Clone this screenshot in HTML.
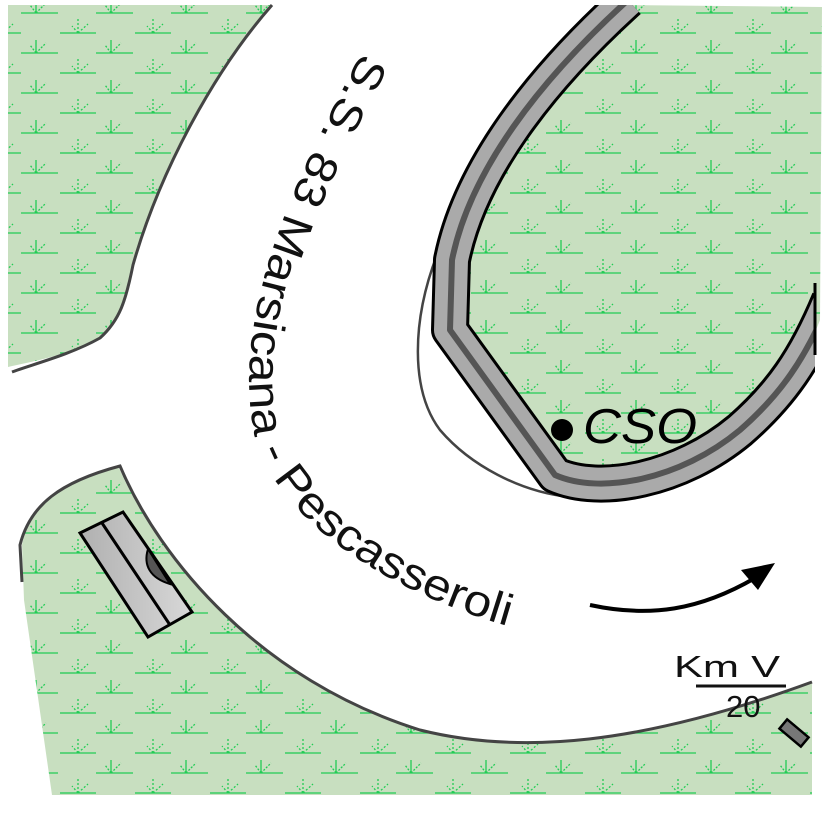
<!DOCTYPE html>
<html><head><meta charset="utf-8"><style>html,body{margin:0;padding:0;background:#fff}svg{display:block}</style></head>
<body>
<svg width="827" height="827" viewBox="0 0 827 827" xmlns="http://www.w3.org/2000/svg">
<defs>
<pattern id="g" width="75" height="40" patternUnits="userSpaceOnUse">
<rect width="75" height="40" fill="#c8dfc0"/>
<g stroke="#22cc55" stroke-width="1.3" fill="none">
<line x1="21" y1="13" x2="58" y2="13"/>
<line x1="36" y1="13" x2="36" y2="0"/>
<path d="M36 13 L30 5 M36 13 L46 3" stroke-dasharray="2 1.5"/>
<line x1="60" y1="33" x2="75" y2="33"/>
<line x1="0" y1="33" x2="21" y2="33"/>
<path d="M78 33 L78 18 M78 33 L72 26 M78 33 L88 24" stroke-dasharray="2 2"/>
<path d="M3 33 L3 18 M3 33 L-3 26 M3 33 L13 24" stroke-dasharray="2 2"/>
</g>
</pattern>
<clipPath id="rc"><rect x="0" y="5" width="815" height="820"/></clipPath>
<linearGradient id="gr" x1="0" y1="0" x2="1" y2="0"><stop offset="0" stop-color="#b0b0b0"/><stop offset="1" stop-color="#d8d8d8"/></linearGradient>
</defs>

<path d="M8 5 L272 5 C215 70 160 170 133 265 C126 300 120 320 100 338 C70 355 30 362 8 367 Z" fill="url(#g)"/>
<path d="M272 5 C215 70 160 170 133 265 C126 300 120 320 100 338 C70 355 30 365 12 372" fill="none" stroke="#444" stroke-width="3"/>

<path d="M24 600 L22 545 C30 505 60 480 118 466 C160 560 260 680 420 730 C520 755 640 745 812 682 L812 795 L52 795 Z" fill="url(#g)"/>
<path d="M22 582 L20 545 C30 505 60 482 120 466 C160 560 260 680 420 730 C520 755 640 745 812 682" fill="none" stroke="#444" stroke-width="3"/>

<path d="M628 5 C540 80 470 170 452 260 L450 330 L555 475 C600 495 680 480 740 430 C780 395 805 360 820 320 L822 7 Z" fill="url(#g)"/>

<path d="M437 255 C412 320 410 390 440 430 C470 465 520 492 570 497" fill="none" stroke="#444" stroke-width="2.5"/>

<g clip-path="url(#rc)" fill="none" stroke-linejoin="round">
<path d="M628 0 C540 80 470 170 452 260 L450 330 L555 475 C600 495 680 480 740 430 C780 395 805 360 830 300" stroke="#000" stroke-width="38"/>
<path d="M628 0 C540 80 470 170 452 260 L450 330 L555 475 C600 495 680 480 740 430 C780 395 805 360 830 300" stroke="#aaa" stroke-width="32"/>
<path d="M628 0 C540 80 470 170 452 260 L450 330 L555 475 C600 495 680 480 740 430 C780 395 805 360 830 300" stroke="#555" stroke-width="6"/>
</g>
<line x1="815" y1="283" x2="815" y2="355" stroke="#000" stroke-width="3"/>

<polygon points="80,533 123,512 192,612 148,637" fill="url(#gr)" stroke="#000" stroke-width="3"/>
<line x1="102" y1="523" x2="170" y2="625" stroke="#000" stroke-width="3"/>
<path d="M148 549 C143 565 150 578 170 584 Z" fill="#555" stroke="#000" stroke-width="2"/>

<path id="tp" d="M362 52 C300 170 235 300 252 420 C265 520 400 600 530 632" fill="none"/>
<text font-family="Liberation Sans, sans-serif" font-size="44" fill="#111"><textPath href="#tp" textLength="735" lengthAdjust="spacingAndGlyphs">S.S. 83 Marsicana - Pescasseroli</textPath></text>

<circle cx="562" cy="430" r="11" fill="#000"/>
<text x="583" y="443" font-family="Liberation Sans, sans-serif" font-style="italic" font-size="49" fill="#000" textLength="114" lengthAdjust="spacingAndGlyphs">CSO</text>

<path d="M590 605 C650 618 700 610 755 578" fill="none" stroke="#000" stroke-width="4"/>
<polygon points="775,563 741,570 758,590" fill="#000"/>

<text x="674" y="677" font-family="Liberation Sans, sans-serif" font-size="31" fill="#111" textLength="106" lengthAdjust="spacingAndGlyphs">Km V</text>
<line x1="696" y1="686" x2="786" y2="686" stroke="#111" stroke-width="3"/>
<text x="726" y="717" font-family="Liberation Sans, sans-serif" font-size="31" fill="#111">20</text>
<rect x="780" y="727" width="28" height="12" fill="#777" stroke="#000" stroke-width="2.5" transform="rotate(40 794 733)"/>
</svg>
</body></html>
